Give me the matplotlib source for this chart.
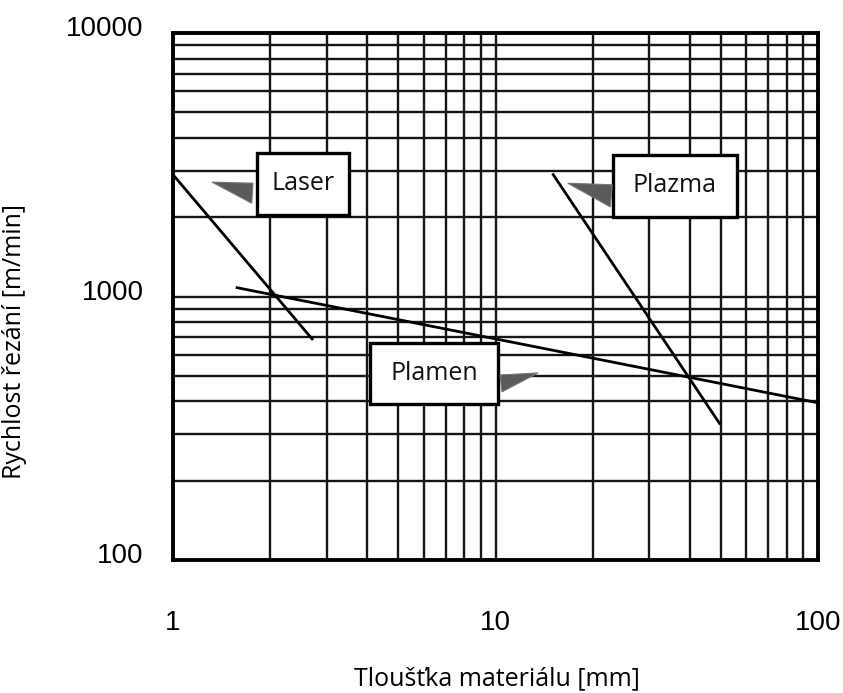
import matplotlib
matplotlib.use("Agg")
import matplotlib.pyplot as plt
from matplotlib.patches import Rectangle, Polygon
from matplotlib.transforms import ScaledTranslation

# Data
laser_x = [1.0, 2.7]
laser_y = [2900, 690]
plamen_x = [1.58, 100]
plamen_y = [1080, 395]
plazma_x = [15.1, 49.5]
plazma_y = [2900, 330]

x_ticks = [1, 10, 100]
x_ticklabels = ["1", "10", "100"]
y_ticks = [100, 1000, 10000]
y_ticklabels = ["100", "1000", "10000"]

labels = ["Laser", "Plazma", "Plamen"]

W, H = 843, 693
fig = plt.figure(figsize=(W / 100, H / 100), dpi=100)
L, R, T, B = 173, 818, 33, 560
ax = fig.add_axes([L / W, (H - B) / H, (R - L) / W, (B - T) / H])

ax.set_xscale("log")
ax.set_yscale("log")
ax.set_xlim(1, 100)
ax.set_ylim(100, 10000)

ax.grid(True, which="both", color="#151515", linewidth=1.7)
ax.set_axisbelow(True)

for s in ax.spines.values():
    s.set_linewidth(2.8)
    s.set_color("black")

tick_font = dict(family=["Liberation Sans", "DejaVu Sans"], size=20)
ax.set_xticks(x_ticks)
ax.set_xticklabels(x_ticklabels, **tick_font)
ax.set_yticks(y_ticks)
ax.set_yticklabels(y_ticklabels, **tick_font)
ax.tick_params(axis="both", which="both", length=0)
ax.tick_params(axis="x", pad=36)
ax.tick_params(axis="y", pad=21)
for t in ax.get_yticklabels():
    t.set_transform(t.get_transform() + ScaledTranslation(0, 0.07, fig.dpi_scale_trans))
last = ax.get_xticklabels()[-1]
last.set_ha("right")
last.set_transform(last.get_transform() + ScaledTranslation(0.23, 0, fig.dpi_scale_trans))

lw = 2.0
ax.plot(laser_x, laser_y, color="black", linewidth=lw, zorder=5)
ax.plot(plamen_x, plamen_y, color="black", linewidth=lw, zorder=5)
ax.plot(plazma_x, plazma_y, color="black", linewidth=lw, zorder=5)

# Label boxes (axes-fraction geometry)
boxes = [
    (0.130, 0.655, 0.143, 0.117),
    (0.682, 0.651, 0.192, 0.118),
    (0.305, 0.296, 0.199, 0.116),
]
tris = [
    [(0.0605, 0.717), (0.124, 0.715), (0.122, 0.677)],
    [(0.612, 0.715), (0.681, 0.712), (0.678, 0.670)],
    [(0.507, 0.351), (0.566, 0.355), (0.510, 0.319)],
]
for lab, (x0, y0, w, h), tri in zip(labels, boxes, tris):
    ax.add_patch(Rectangle((x0, y0), w, h, transform=ax.transAxes,
                           facecolor="white", edgecolor="black",
                           linewidth=2.4, zorder=6))
    ax.text(x0 + w / 2, y0 + h / 2, lab, transform=ax.transAxes,
            ha="center", va="center", fontsize=18,
            family="Open Sans", color="#111111", zorder=7)
    ax.add_patch(Polygon(tri, closed=True, transform=ax.transAxes,
                         facecolor="#5a5a5a", edgecolor="#777777",
                         linewidth=0.8, zorder=6))

fig.text(497 / W, 1 - 679 / H, "Tloušťka materiálu [mm]", ha="center",
         va="center", fontsize=18, family="Open Sans")
fig.text(15 / W, 1 - 342 / H, "Rychlost řezání [m/min]", ha="center",
         va="center", rotation=90, fontsize=18, family="Open Sans")

fig.savefig("out.png", dpi=100)
